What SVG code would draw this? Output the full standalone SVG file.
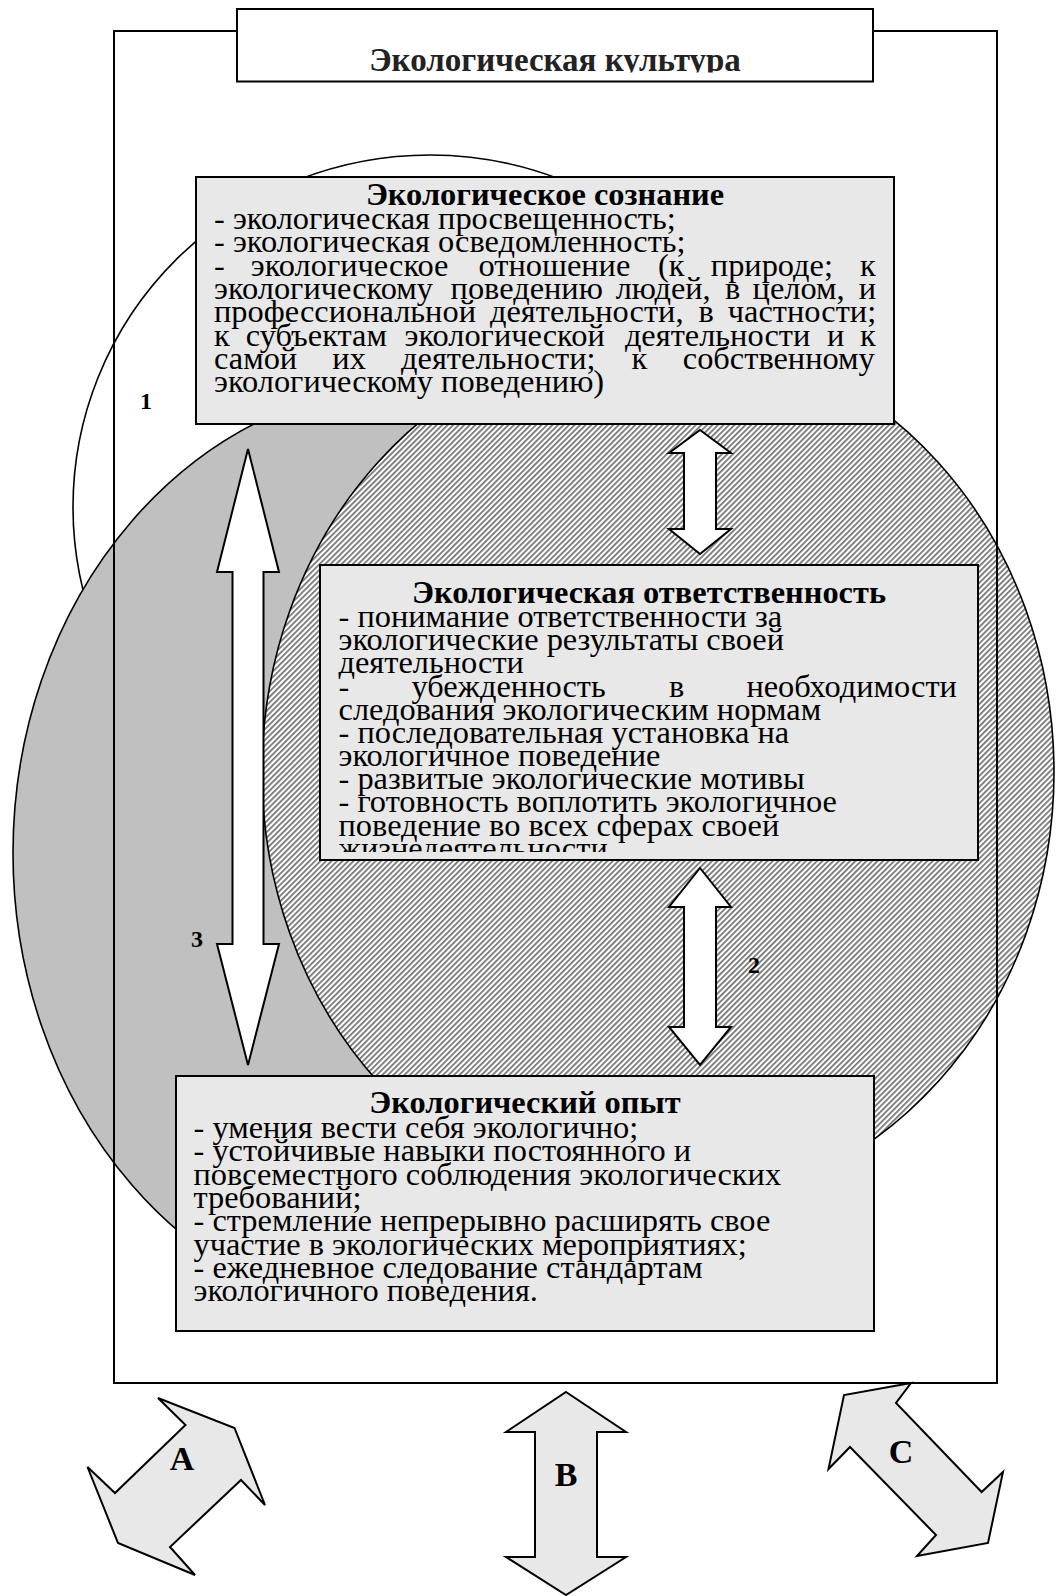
<svg xmlns="http://www.w3.org/2000/svg" width="1059" height="1596" viewBox="0 0 1059 1596">
<style>
.box{fill:#e8e8e8;stroke:#000;stroke-width:2}
.t{font-family:"Liberation Serif","Times New Roman",serif;font-size:32.4px;fill:#000}
.b{font-weight:bold}
.c{text-anchor:middle}
.lab{font-family:"Liberation Serif","Times New Roman",serif;font-weight:bold;fill:#000;text-anchor:middle}
.aw{fill:#fff;stroke:#000;stroke-width:2}
.ag{fill:#e8e8e8;stroke:#000;stroke-width:2}
.ell{stroke:#000;stroke-width:1.6}
</style>
<defs>
<pattern id="hatch" patternUnits="userSpaceOnUse" width="8" height="3.9" patternTransform="rotate(-45)">
<rect width="8" height="3.9" fill="#fff"/>
<rect width="8" height="1.7" fill="#707070"/>
</pattern>
<clipPath id="clipTitle"><rect x="237" y="9" width="636" height="63.5"/></clipPath>
<clipPath id="clipBox2"><rect x="320" y="565" width="658" height="287"/></clipPath>
</defs>
<rect width="1059" height="1596" fill="#fff"/>
<g id="spheres">
<ellipse class="ell" cx="430" cy="507" rx="357" ry="352" fill="#fff"/>
<ellipse class="ell" cx="420" cy="853" rx="407" ry="470" fill="#c0c0c0"/>
<ellipse class="ell" cx="658" cy="772" rx="396" ry="438" fill="url(#hatch)"/>
</g>
<g id="outer-frame">
<rect x="114" y="31" width="883" height="1352" fill="none" stroke="#000" stroke-width="2"/>
</g>
<g id="title-node">
<rect x="237" y="9" width="636" height="72.5" fill="#fff" stroke="#000" stroke-width="2"/>
<text class="t b c" x="555" y="71" clip-path="url(#clipTitle)" style="fill:#222;font-size:33px">Экологическая культура</text>
</g>
<g id="node-consciousness">
<rect class="box" x="196" y="177" width="698" height="247"/>
<text class="t b c" x="545" y="205">Экологическое сознание</text>
<text class="t" x="214" y="228.5">- экологическая просвещенность;</text>
<text class="t" x="214" y="252">- экологическая осведомленность;</text>
<text class="t" y="275.5"><tspan x="214">-</tspan><tspan x="250.8">экологическое</tspan><tspan x="478.5">отношение</tspan><tspan x="658">(к</tspan><tspan x="710.8">природе;</tspan><tspan x="860.1">к</tspan></text>
<text class="t" y="299"><tspan x="214">экологическому</tspan><tspan x="450.6">поведению</tspan><tspan x="615.7">людей,</tspan><tspan x="725.1">в</tspan><tspan x="752.6">целом,</tspan><tspan x="858.7">и</tspan></text>
<text class="t" y="322"><tspan x="214">профессиональной</tspan><tspan x="490">деятельности,</tspan><tspan x="698.5">в</tspan><tspan x="727.8">частности;</tspan></text>
<text class="t" y="345.5"><tspan x="214">к</tspan><tspan x="245.7">субъектам</tspan><tspan x="404.5">экологической</tspan><tspan x="624.9">деятельности</tspan><tspan x="826.9">и</tspan><tspan x="860">к</tspan></text>
<text class="t" y="369"><tspan x="214">самой</tspan><tspan x="332.3">их</tspan><tspan x="401.1">деятельности;</tspan><tspan x="631.6">к</tspan><tspan x="682.8">собственному</tspan></text>
<text class="t" x="214" y="392">экологическому поведению)</text>
</g>
<g id="node-responsibility">
<rect class="box" x="320" y="565" width="658" height="295"/>
<text class="t b c" x="649" y="603">Экологическая ответственность</text>
<g clip-path="url(#clipBox2)">
<text class="t" x="338.5" y="627">- понимание ответственности за</text>
<text class="t" x="338.5" y="650">экологические результаты своей</text>
<text class="t" x="338.5" y="673">деятельности</text>
<text class="t" y="697"><tspan x="338.5">-</tspan><tspan x="411.4">убежденность</tspan><tspan x="669.1">в</tspan><tspan x="746.4">необходимости</tspan></text>
<text class="t" x="338.5" y="720">следования экологическим нормам</text>
<text class="t" x="338.5" y="743">- последовательная установка на</text>
<text class="t" x="338.5" y="766">экологичное поведение</text>
<text class="t" x="338.5" y="789">- развитые экологические мотивы</text>
<text class="t" x="338.5" y="812">- готовность воплотить экологичное</text>
<text class="t" x="338.5" y="835.5">поведение во всех сферах своей</text>
<text class="t" x="338.5" y="859">жизнедеятельности</text>
</g>
</g>
<g id="node-experience">
<rect class="box" x="176" y="1076" width="698" height="255"/>
<text class="t b c" x="525" y="1113">Экологический опыт</text>
<text class="t" x="193.5" y="1137.5">- умения вести себя экологично;</text>
<text class="t" x="193.5" y="1161">- устойчивые навыки постоянного и</text>
<text class="t" x="193.5" y="1184.5">повсеместного соблюдения экологических</text>
<text class="t" x="193.5" y="1208">требований;</text>
<text class="t" x="193.5" y="1231">- стремление непрерывно расширять свое</text>
<text class="t" x="193.5" y="1254.5">участие в экологических мероприятиях;</text>
<text class="t" x="193.5" y="1278">- ежедневное следование стандартам</text>
<text class="t" x="193.5" y="1301">экологичного поведения.</text>
</g>
<g id="connectors">
<polygon class="aw" points="700,430 731,453 716,453 716,529 731,529 700,554 669,529 684,529 684,453 669,453"/>
<polygon class="aw" points="700,868 731,907 716,907 716,1027 731,1027 700,1065 669,1027 684,1027 684,907 669,907"/>
<polygon class="aw" points="248,449 279,572 263.5,572 263.5,944 279,944 248,1065 217,944 232.5,944 232.5,572 217,572"/>
<polygon class="ag" points="158,1398 234.5,1428 265,1505 241,1480 170,1547 195,1575 118,1543 87.5,1467 115,1493 185.5,1425"/>
<polygon class="ag" points="566,1392 626,1432 597,1432 597,1557 626,1557 566,1595 506,1557 535,1557 535,1432 506,1432"/>
<polygon class="ag" points="911,1383 844,1395 828.5,1469 850,1447 936,1535 917,1556 988,1543 1003,1472 981.6,1492 896,1403"/>
</g>
<g id="labels">
<text class="lab" x="146" y="409" font-size="24">1</text>
<text class="lab" x="754" y="973" font-size="24">2</text>
<text class="lab" x="197" y="947" font-size="24">3</text>
<text class="lab" x="182" y="1470" font-size="34">A</text>
<text class="lab" x="566" y="1486" font-size="34">B</text>
<text class="lab" x="901" y="1463" font-size="34">C</text>
</g>
</svg>
